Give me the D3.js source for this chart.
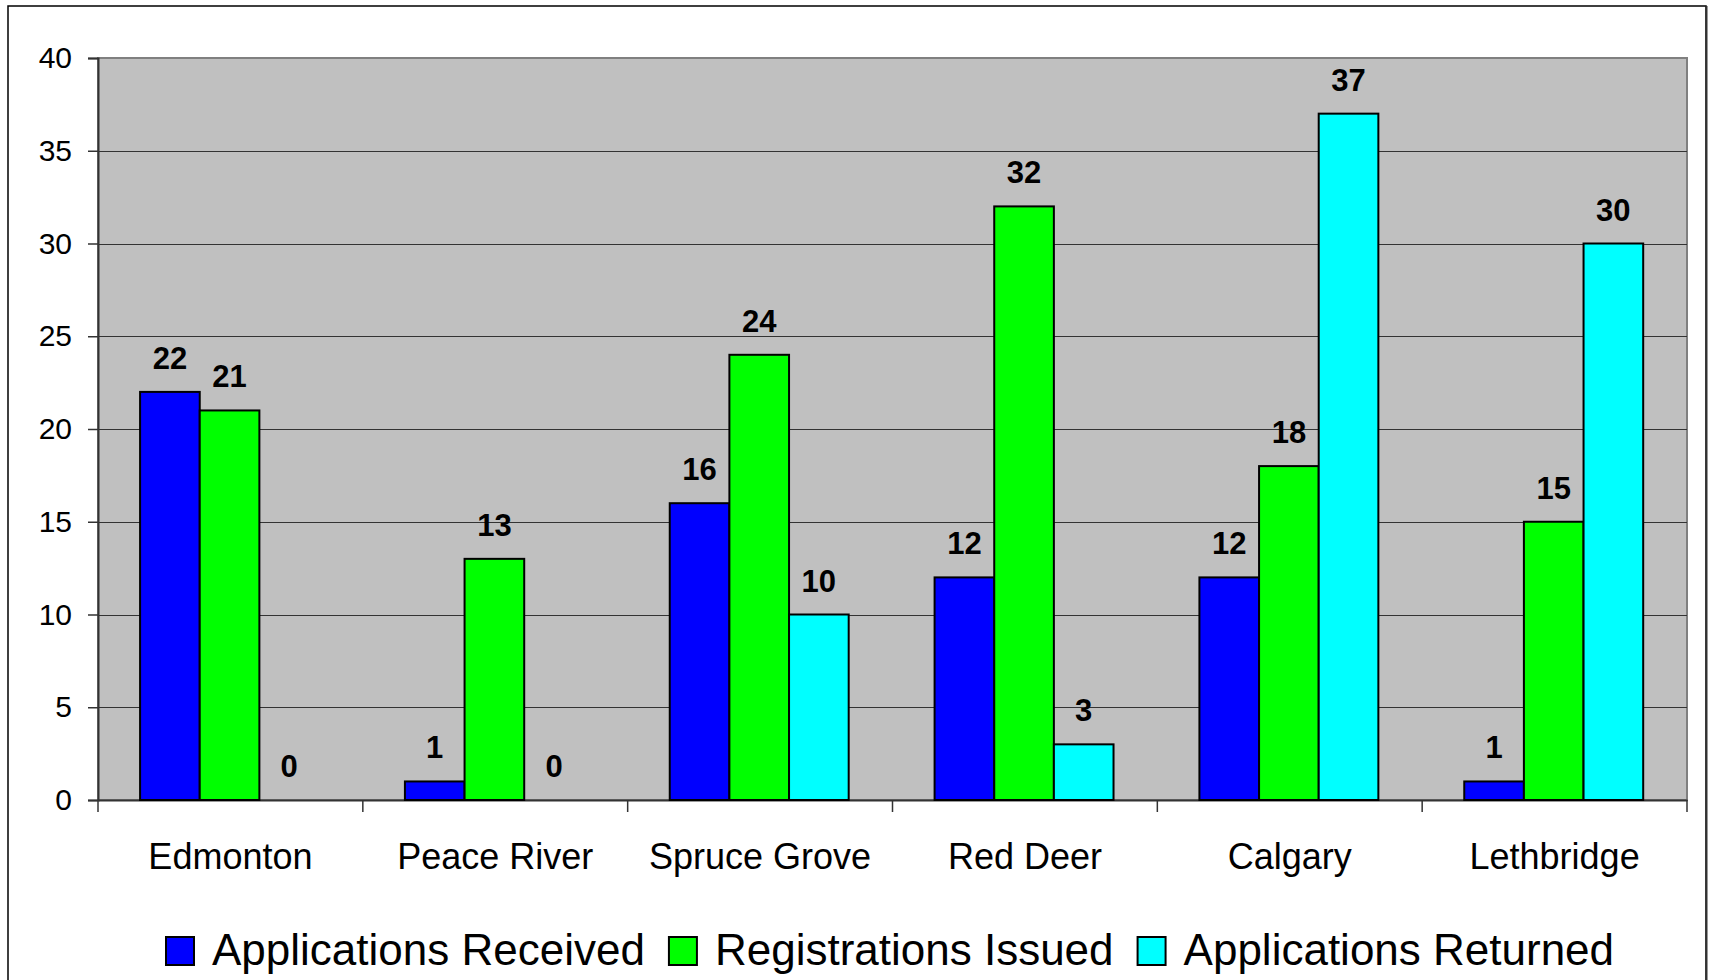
<!DOCTYPE html>
<html>
<head>
<meta charset="utf-8">
<script src="https://cdn.jsdelivr.net/npm/d3@7"></script>
<style>
  html, body { margin: 0; padding: 0; background: #ffffff; }
  svg { display: block; font-family: "Liberation Sans", Arial, sans-serif; }
</style>
</head>
<body>
<svg id="chart" width="1712" height="980"></svg>
<script>
const categories = ["Edmonton", "Peace River", "Spruce Grove", "Red Deer", "Calgary", "Lethbridge"];
const seriesNames = ["Applications Received", "Registrations Issued", "Applications Returned"];
const applicationsReceived = [22, 1, 16, 12, 12, 1];
const registrationsIssued = [21, 13, 24, 32, 18, 15];
const applicationsReturned = [0, 0, 10, 3, 37, 30];
const yTicks = [0, 5, 10, 15, 20, 25, 30, 35, 40];
const seriesColors = ["#0000FF", "#00FF00", "#00FFFF"];

const seriesValues = [applicationsReceived, registrationsIssued, applicationsReturned];

const svg = d3.select("#chart");
const plot = { left: 98, right: 1687, top: 58, bottom: 800 };

// outer chart frame
svg.append("rect").attr("x", 8).attr("y", 6).attr("width", 1698).attr("height", 1000)
  .attr("fill", "#ffffff").attr("stroke", "#000000").attr("stroke-width", 1.5);
svg.append("line").attr("x1", 1706.5).attr("x2", 1706.5).attr("y1", 6).attr("y2", 980)
  .attr("stroke", "#333333").attr("stroke-width", 2);

const x0 = d3.scaleBand().domain(categories).range([plot.left, plot.right]).paddingInner(0).paddingOuter(0);
const x1 = d3.scaleBand().domain(seriesNames).range([0, x0.bandwidth()])
  .paddingInner(0).paddingOuter(0.72).align(0.49);
const y = d3.scaleLinear().domain([0, 40]).range([plot.bottom, plot.top]);

// plot area background
svg.append("rect").attr("x", plot.left).attr("y", plot.top)
  .attr("width", plot.right - plot.left).attr("height", plot.bottom - plot.top)
  .attr("fill", "#C0C0C0").attr("stroke", "#808080").attr("stroke-width", 2);

// gridlines
svg.append("g").selectAll("line").data(yTicks.filter(t => t > 0 && t < 40)).join("line")
  .attr("x1", plot.left).attr("x2", plot.right)
  .attr("y1", d => Math.round(y(d)) + 0.5).attr("y2", d => Math.round(y(d)) + 0.5)
  .attr("stroke", "#333333").attr("stroke-width", 1.2);

// y axis
const yAxis = d3.axisLeft(y).tickValues(yTicks).tickSize(10).tickPadding(16).tickFormat(d3.format("d"));
const gy = svg.append("g").attr("transform", `translate(${plot.left},0)`).call(yAxis);
gy.select(".domain").attr("stroke", "#333333").attr("stroke-width", 2);
gy.selectAll(".tick line").attr("stroke", "#333333").attr("stroke-width", 1.5);
gy.selectAll(".tick text").attr("font-size", 30).attr("fill", "#000").attr("font-family", "Liberation Sans, Arial, sans-serif");

// x axis
const xAxis = d3.axisBottom(x0).tickSize(0).tickPadding(0).tickFormat(d => d);
const gx = svg.append("g").attr("transform", `translate(0,${plot.bottom})`).call(xAxis);
gx.select(".domain").attr("stroke", "#333333").attr("stroke-width", 2);
gx.selectAll(".tick text").attr("font-size", 36).attr("fill", "#000")
  .attr("font-family", "Liberation Sans, Arial, sans-serif")
  .attr("dy", null).attr("y", 69);
// category separator ticks
const sepPositions = categories.map(c => x0(c)).concat([plot.right]);
svg.append("g").selectAll("line").data(sepPositions).join("line")
  .attr("x1", d => d).attr("x2", d => d)
  .attr("y1", plot.bottom).attr("y2", plot.bottom + 12)
  .attr("stroke", "#333333").attr("stroke-width", 1.5);

// bars
const groups = svg.append("g").selectAll("g").data(categories).join("g")
  .attr("transform", c => `translate(${x0(c)},0)`);

groups.selectAll("rect").data((c, ci) => seriesNames.map((s, si) => ({ s, si, v: seriesValues[si][ci] })))
  .join("rect")
  .filter(d => d.v > 0)
  .attr("x", d => x1(d.s)).attr("width", x1.bandwidth())
  .attr("y", d => y(d.v)).attr("height", d => y(0) - y(d.v))
  .attr("fill", d => seriesColors[d.si]).attr("stroke", "#000").attr("stroke-width", 2);

groups.selectAll("text").data((c, ci) => seriesNames.map((s, si) => ({ s, si, v: seriesValues[si][ci] })))
  .join("text")
  .attr("x", d => x1(d.s) + x1.bandwidth() / 2)
  .attr("y", d => y(d.v) - 23)
  .attr("text-anchor", "middle")
  .attr("font-size", 31).attr("font-weight", "bold").attr("fill", "#000")
  .text(d => d.v);

// legend
const legend = svg.append("g");
const legendFont = 44;
let lx = 166;
seriesNames.forEach((name, i) => {
  legend.append("rect").attr("x", lx).attr("y", 937).attr("width", 28).attr("height", 28)
    .attr("fill", seriesColors[i]).attr("stroke", "#000").attr("stroke-width", 2);
  const t = legend.append("text").attr("x", lx + 46).attr("y", 965)
    .attr("font-size", legendFont).attr("fill", "#000").text(name);
  const w = t.node().getComputedTextLength();
  lx = lx + 46 + w + 24;
});
</script>
</body>
</html>
